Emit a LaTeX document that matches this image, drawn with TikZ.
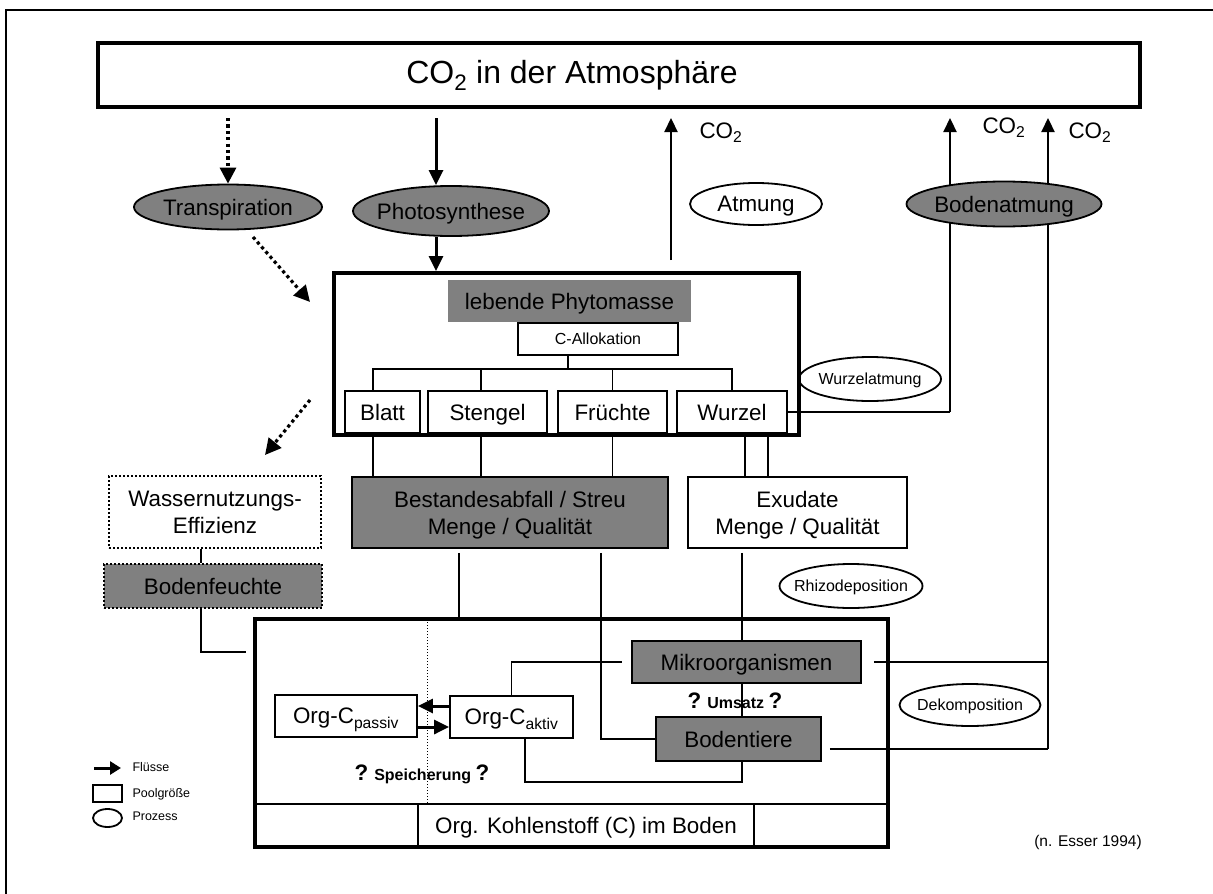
\documentclass[tikz,border=0pt]{standalone}
\usepackage{fontspec}
\setmainfont{Liberation Sans}
\usetikzlibrary{arrows.meta,shapes.geometric,calc}
\definecolor{poolgray}{HTML}{808080}
\newcommand{\fsBig}{\fontsize{32pt}{36pt}\selectfont}
\newcommand{\fsMain}{\fontsize{22.4pt}{27pt}\selectfont}
\newcommand{\fsSmall}{\fontsize{16pt}{19pt}\selectfont}
\newcommand{\fsTiny}{\fontsize{12.5pt}{15pt}\selectfont}
\begin{document}
\begin{tikzpicture}[x=1pt,y=-1pt,
  conn/.style={line width=1.8pt},
  flow/.style={line width=3pt,-{Triangle[width=14pt,length=15pt]}},
  co2flow/.style={line width=2.2pt,-{Triangle[width=13pt,length=14pt]}},
  dotflow/.style={line width=3.2pt,dash pattern=on 3.2pt off 3.2pt,-{Triangle[width=16pt,length=16pt]}},
  pool/.style={draw,line width=1.8pt,rectangle,inner sep=0pt,font=\fsMain,align=center,text depth=0pt},
  bigpool/.style={draw,line width=4pt,rectangle,inner sep=0pt},
  process/.style={draw,line width=1.8pt,ellipse,inner xsep=-40pt,inner ysep=-8pt,font=\fsMain,text depth=0pt},
  smallproc/.style={process,font=\fsSmall},
  shaded/.style={fill=poolgray},
  dotborder/.style={dash pattern=on 2pt off 2pt,line width=2pt},
]
\path[use as bounding box] (0,0) rectangle (1213,894);
\clip (0,0) rectangle (1213,894);
\draw[line width=2pt] (6,10) rectangle (1240,920);

% helper levels
\coordinate (tipline) at (0,118);
\coordinate (bus) at (0,369);
\coordinate (wzR) at (950,412);
\coordinate (soilR) at (1048,0);
\coordinate (loopB) at (0,782);
\coordinate (divY) at (0,804);
\coordinate (fcorner) at (246,652);

% atmosphere
\node[bigpool,line width=3.5pt,minimum width=1042pt,minimum height=64pt] (atm) at (619,75) {};
\node[font=\fsBig,text depth=0pt] (atmtext) at (572,72) {CO\textsubscript{2} in der Atmosphäre};

% plant biomass
\node[bigpool,minimum width=465pt,minimum height=162pt] (phyto) at (566.5,354) {};
\node[fill=poolgray,minimum width=243pt,minimum height=42pt,inner sep=0pt,font=\fsMain,text depth=0pt] (lebend) at (569.5,301) {lebende Phytomasse};
\node[pool,font=\fsSmall,minimum width=160pt,minimum height=32pt] (calloc) at (598,339) {C-Allokation};
\node[pool,minimum width=75pt,minimum height=42pt] (blatt) at (382.5,412) {Blatt};
\node[pool,minimum width=119pt,minimum height=42pt] (stengel) at (487.5,412) {Stengel};
\node[pool,minimum width=109pt,minimum height=42pt] (fruechte) at (612.5,412) {Früchte};
\node[pool,minimum width=110pt,minimum height=42pt] (wurzel) at (732,412) {Wurzel};

% allocation tree
\draw[conn] ([xshift=-30pt]calloc.south) -- ([xshift=-30pt]calloc.south |- bus);
\draw[conn] ([xshift=-9.5pt]blatt.north) -- ([xshift=-9.5pt]blatt.north |- bus) -- (wurzel.north |- bus) -- (wurzel.north);
\draw[conn] ([xshift=-6.5pt]stengel.north) -- ([xshift=-6.5pt]stengel.north |- bus);
\draw[conn] (fruechte.north) -- (fruechte.north |- bus);

% litter, exudates, water
\node[pool,shaded,minimum width=316pt,minimum height=71pt] (bestand) at (510,512.5) {Bestandesabfall / Streu\\Menge / Qualität};
\node[pool,minimum width=219pt,minimum height=71pt] (exudate) at (797.5,512.5) {Exudate\\Menge / Qualität};
\node[pool,dotborder,minimum width=212pt,minimum height=72pt] (wue) at (215,512) {Wassernutzungs-\\Effizienz};
\node[pool,shaded,dotborder,minimum width=218pt,minimum height=44pt] (feuchte) at (213,586) {Bodenfeuchte};

\draw[conn] ([xshift=-9.5pt]blatt.south) -- ([xshift=-9.5pt]blatt.south |- bestand.north);
\draw[conn] ([xshift=-6.5pt]stengel.south) -- ([xshift=-6.5pt]stengel.south |- bestand.north);
\draw[conn] (fruechte.south) -- (fruechte.south |- bestand.north);
\draw[conn] ([xshift=13pt]wurzel.south) -- ([xshift=13pt]wurzel.south |- exudate.north);
\draw[conn] ([xshift=36pt]wurzel.south) -- ([xshift=36pt]wurzel.south |- exudate.north);
\draw[conn] ([xshift=-14pt]wue.south) -- ([xshift=-14pt]wue.south |- feuchte.north);
\draw[conn] ([xshift=-12pt]feuchte.south) |- (fcorner);

% soil organic carbon
\node[bigpool,minimum width=633pt,minimum height=228pt] (soil) at (571.5,733) {};
\draw[conn] (soil.west |- divY) -- (soil.east |- divY);
\node[pool,minimum width=336pt,minimum height=43pt] (orgc) at (586,825.5) {Org. Kohlenstoff (C) im Boden};
\draw[line width=1pt,dash pattern=on 1.2pt off 1.8pt] (427,619) -- (427,804);
\node[pool,minimum width=142pt,minimum height=42pt] (passiv) at (346,716) {Org-C\textsubscript{passiv}};
\node[pool,minimum width=123pt,minimum height=42pt] (aktiv) at (511.5,717) {Org-C\textsubscript{aktiv}};
\node[pool,shaded,minimum width=229pt,minimum height=42pt] (mikro) at (746.5,662) {Mikroorganismen};
\node[pool,shaded,minimum width=165pt,minimum height=44pt] (bodentiere) at (738.5,739) {Bodentiere};
\node[font=\bfseries\fsSmall,text depth=0pt] (umsatz) at (735,701) {{\fsMain ?} Umsatz {\fsMain ?}};
\node[font=\bfseries\fsSmall,text depth=0pt] (speicher) at (422,773) {{\fsMain ?} Speicherung {\fsMain ?}};

\draw[flow] ([yshift=11pt]aktiv.west) -- ([yshift=11pt]aktiv.west -| passiv.east);
\draw[flow] ([yshift=-11pt,xshift=-2pt]passiv.east) -- ([yshift=-11pt]passiv.east -| aktiv.west);

\draw[conn] ([xshift=-51pt,yshift=-4pt]bestand.south) -- ([xshift=-51pt]bestand.south |- soil.north);
\draw[conn] ([xshift=91pt,yshift=-4pt]bestand.south) |- (bodentiere.west);
\draw[conn] ([xshift=-55.5pt,yshift=-4pt]exudate.south) -- ([xshift=-55.5pt]exudate.south |- mikro.north);
\draw[conn] ([xshift=-4.5pt]mikro.south) -- ([xshift=-4.5pt]mikro.south |- bodentiere.north);
\draw[conn] ([xshift=3.5pt]bodentiere.south) |- ([xshift=13.5pt]aktiv.south |- loopB) -- ([xshift=13.5pt]aktiv.south);
\draw[conn] (aktiv.north) |- ([xshift=-9pt]mikro.west);
\draw[conn] ([xshift=12pt]mikro.east) -- (mikro.east -| soilR);
\draw[conn] ([xshift=8pt,yshift=-10pt]bodentiere.east) -- ([yshift=-10pt]bodentiere.east -| soilR);

% respiration paths to the atmosphere
\draw[conn] (wurzel.east) -- (wzR);
\draw[co2flow] (wzR) -- (wzR |- tipline);
\draw[co2flow] ([yshift=-10pt]bodentiere.east -| soilR) -- (soilR |- tipline);
\coordinate (atmfoot) at (671,260);
\draw[co2flow] (atmfoot) -- (atmfoot |- tipline);

% processes
\node[process,shaded,minimum width=188pt,minimum height=45pt] (transp) at (228,207) {Transpiration};
\node[process,shaded,minimum width=196pt,minimum height=50pt] (photo) at (451,211) {Photosynthese};
\node[process,minimum width=132pt,minimum height=42pt] (atmung) at (756,204) {Atmung};
\node[process,shaded,minimum width=195pt,minimum height=45pt] (bodenatm) at (1004,204) {Bodenatmung};
\node[smallproc,minimum width=142pt,minimum height=44pt] (wurzelatm) at (870,379) {Wurzelatmung};
\node[smallproc,minimum width=143pt,minimum height=44pt] (rhizo) at (851,586) {Rhizodeposition};
\node[smallproc,minimum width=141pt,minimum height=42pt] (dekomp) at (970,705) {Dekomposition};

\draw[dotflow] (transp.north |- tipline) -- (transp.north);
\coordinate (ph) at ([xshift=-15pt]photo.south);
\draw[flow] ([xshift=-15pt]photo.north |- tipline) -- ([xshift=-15pt]photo.north);
\draw[flow] (ph) -- (ph |- phyto.north);
\coordinate (dA1) at (253,237);
\coordinate (dA2) at (310,302);
\draw[dotflow] (dA1) -- (dA2);
\coordinate (dB1) at (310,400);
\coordinate (dB2) at (265,455);
\draw[dotflow] (dB1) -- (dB2);

% CO2 labels
\node[anchor=west,font=\fsMain] (co2a) at (696,133) {CO\textsubscript{2}};
\node[anchor=west,font=\fsMain] (co2b) at (979,128) {CO\textsubscript{2}};
\node[anchor=west,font=\fsMain] (co2c) at (1065,133) {CO\textsubscript{2}};

% legend
\coordinate (lgA) at (94,768);
\coordinate (lgB) at (121,768);
\draw[line width=3pt,-{Triangle[width=13pt,length=11pt]}] (lgA) -- (lgB);
\node[anchor=west,font=\fsTiny] (lgflow) at (129,767) {Flüsse};
\node[draw,line width=1.8pt,minimum width=29pt,minimum height=17pt,inner sep=0pt] (lgbox) at (107.5,793.5) {};
\node[anchor=west,font=\fsTiny] (lgpool) at (129,794) {Poolgröße};
\node[draw,line width=1.8pt,ellipse,minimum width=29pt,minimum height=18pt,inner sep=0pt] (lgell) at (107.5,818) {};
\node[anchor=west,font=\fsTiny] (lgproc) at (129,816) {Prozess};

\node[font=\fontsize{15.5pt}{18pt}\selectfont] (source) at (1088,842) {(n. Esser 1994)};
\end{tikzpicture}
\end{document}
